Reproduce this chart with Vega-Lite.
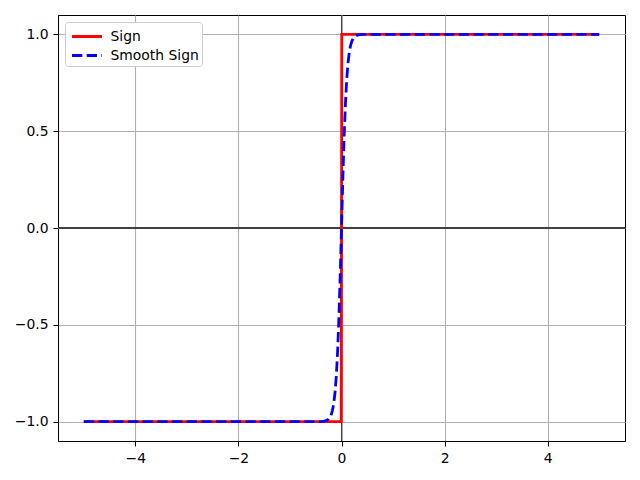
{
  "$schema": "https://vega.github.io/schema/vega-lite/v6.json",
  "autosize": {"type": "none"},
  "padding": {"left": 58, "top": 15, "right": 15, "bottom": 39},
  "width": 567,
  "height": 426,
  "background": "white",
  "config": {
    "view": {"stroke": "black", "strokeWidth": 1},
    "axis": {
      "grid": true,
      "gridColor": "#b0b0b0",
      "gridWidth": 1.1,
      "domainColor": "black",
      "domainWidth": 1,
      "tickColor": "black",
      "tickSize": 5,
      "tickWidth": 1,
      "labelPadding": 5,
      "labelColor": "black",
      "labelFont": "DejaVu Sans",
      "labelFontSize": 13.9,
      "title": null
    },
    "legend": {
      "orient": "top-left",
      "offset": 7,
      "padding": 3,
      "strokeColor": "#cccccc",
      "fillColor": "white",
      "cornerRadius": 3,
      "symbolType": "M-1.5,0H1.5",
      "symbolSize": 400,
      "symbolOffset": 7.5,
      "symbolStrokeWidth": 2.78,
      "labelFontSize": 13.9,
      "labelFont": "DejaVu Sans",
      "labelColor": "black",
      "rowPadding": 0,
      "labelOffset": 12
    }
  },
  "data": {
    "values": [
      {"series": "Sign", "x": -5, "y": -1},
      {"series": "Sign", "x": -0.005, "y": -1},
      {"series": "Sign", "x": 0.005, "y": 1},
      {"series": "Sign", "x": 5, "y": 1},
      {"series": "Smooth Sign", "x": -5, "y": -1},
      {"series": "Smooth Sign", "x": -1, "y": -1},
      {"series": "Smooth Sign", "x": -0.6, "y": -0.99999},
      {"series": "Smooth Sign", "x": -0.5, "y": -0.99991},
      {"series": "Smooth Sign", "x": -0.45, "y": -0.99975},
      {"series": "Smooth Sign", "x": -0.4, "y": -0.99933},
      {"series": "Smooth Sign", "x": -0.35, "y": -0.99818},
      {"series": "Smooth Sign", "x": -0.3, "y": -0.99505},
      {"series": "Smooth Sign", "x": -0.275, "y": -0.99186},
      {"series": "Smooth Sign", "x": -0.25, "y": -0.98661},
      {"series": "Smooth Sign", "x": -0.225, "y": -0.97803},
      {"series": "Smooth Sign", "x": -0.2, "y": -0.96403},
      {"series": "Smooth Sign", "x": -0.175, "y": -0.94138},
      {"series": "Smooth Sign", "x": -0.15, "y": -0.90515},
      {"series": "Smooth Sign", "x": -0.125, "y": -0.84828},
      {"series": "Smooth Sign", "x": -0.1, "y": -0.76159},
      {"series": "Smooth Sign", "x": -0.075, "y": -0.63515},
      {"series": "Smooth Sign", "x": -0.05, "y": -0.46212},
      {"series": "Smooth Sign", "x": -0.025, "y": -0.24492},
      {"series": "Smooth Sign", "x": 0, "y": 0},
      {"series": "Smooth Sign", "x": 0.025, "y": 0.24492},
      {"series": "Smooth Sign", "x": 0.05, "y": 0.46212},
      {"series": "Smooth Sign", "x": 0.075, "y": 0.63515},
      {"series": "Smooth Sign", "x": 0.1, "y": 0.76159},
      {"series": "Smooth Sign", "x": 0.125, "y": 0.84828},
      {"series": "Smooth Sign", "x": 0.15, "y": 0.90515},
      {"series": "Smooth Sign", "x": 0.175, "y": 0.94138},
      {"series": "Smooth Sign", "x": 0.2, "y": 0.96403},
      {"series": "Smooth Sign", "x": 0.225, "y": 0.97803},
      {"series": "Smooth Sign", "x": 0.25, "y": 0.98661},
      {"series": "Smooth Sign", "x": 0.275, "y": 0.99186},
      {"series": "Smooth Sign", "x": 0.3, "y": 0.99505},
      {"series": "Smooth Sign", "x": 0.35, "y": 0.99818},
      {"series": "Smooth Sign", "x": 0.4, "y": 0.99933},
      {"series": "Smooth Sign", "x": 0.45, "y": 0.99975},
      {"series": "Smooth Sign", "x": 0.5, "y": 0.99991},
      {"series": "Smooth Sign", "x": 0.6, "y": 0.99999},
      {"series": "Smooth Sign", "x": 1, "y": 1},
      {"series": "Smooth Sign", "x": 5, "y": 1}
    ]
  },
  "layer": [
    {
      "mark": {"type": "rule", "color": "#404040", "strokeWidth": 1},
      "encoding": {"y": {"datum": 0, "type": "quantitative"}}
    },
    {
      "mark": {"type": "rule", "color": "#404040", "strokeWidth": 1},
      "encoding": {"x": {"datum": 0, "type": "quantitative"}}
    },
    {
      "mark": {"type": "line", "strokeWidth": 2.78},
      "encoding": {
        "x": {
          "field": "x",
          "type": "quantitative",
          "scale": {"domain": [-5.5, 5.5], "nice": false, "zero": false},
          "axis": {"values": [-4, -2, 0, 2, 4], "labelExpr": "replace(datum.label, '-', '−')"}
        },
        "y": {
          "field": "y",
          "type": "quantitative",
          "scale": {"domain": [-1.1, 1.1], "nice": false, "zero": false},
          "axis": {"values": [-1, -0.5, 0, 0.5, 1], "format": ".1f", "labelExpr": "replace(datum.label, '-', '−')"}
        },
        "color": {
          "field": "series",
          "type": "nominal",
          "scale": {"domain": ["Sign", "Smooth Sign"], "range": ["#ff0000", "#0000ff"]},
          "legend": {"title": null}
        },
        "strokeDash": {
          "field": "series",
          "type": "nominal",
          "scale": {"domain": ["Sign", "Smooth Sign"], "range": [[1, 0], [10.3, 4.4]]},
          "legend": {"title": null}
        }
      }
    }
  ]
}
